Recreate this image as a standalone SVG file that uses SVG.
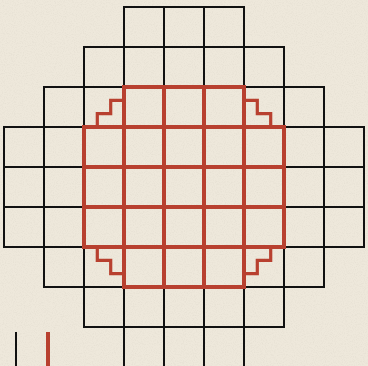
<svg xmlns="http://www.w3.org/2000/svg" width="368" height="366" viewBox="0 0 368 366">
<defs>
<filter id="paper" x="0" y="0" width="100%" height="100%">
<feTurbulence type="fractalNoise" baseFrequency="0.9" numOctaves="2" seed="3" result="n"/>
<feColorMatrix type="matrix" values="0 0 0 0 0.45  0 0 0 0 0.42  0 0 0 0 0.36  0 0 0 -1.6 0.9"/>
</filter>
<style>
.bg{fill:#eee8db}
.grid{fill:none;stroke:#111;stroke-width:2;stroke-linecap:square}
.red{fill:none;stroke:#b8402f;stroke-width:4;stroke-linecap:square}
.stair{fill:none;stroke:#b8402f;stroke-width:3.2;stroke-linejoin:miter}
</style>
</defs>
<rect class="bg" x="0" y="0" width="368" height="366"/>
<rect x="0" y="0" width="368" height="366" filter="url(#paper)" opacity="0.18"/>
<g id="black-grid">
<path class="grid" d="M124 7H244 M84 47H284 M44 87H324 M4 127H364 M4 167H364 M4 207H364 M4 247H364 M44 287H324 M84 327H284 M124 367H244 M4 127V247 M44 87V287 M84 47V327 M124 7V367 M164 7V367 M204 7V367 M244 7V367 M284 47V327 M324 87V287 M364 127V247"/>
</g>
<g id="red-shape">
<path class="red" d="M124 87H244 M84 127H284 M84 167H284 M84 207H284 M84 247H284 M124 287H244 M84 127V247 M124 87V287 M164 87V287 M204 87V287 M244 87V287 M284 127V247"/>
<path class="stair" d="M97.3 127V113.7H110.7V100.3H124"/>
<path class="stair" d="M244 100.3H257.3V113.7H270.7V127"/>
<path class="stair" d="M97.3 247V260.3H110.7V273.7H124"/>
<path class="stair" d="M244 273.7H257.3V260.3H270.7V247"/>
</g>
<g id="legend">
<line x1="16" y1="332" x2="16" y2="366" stroke="#111" stroke-width="2"/>
<line x1="48" y1="332" x2="48" y2="366" stroke="#b8402f" stroke-width="4"/>
</g>
</svg>
